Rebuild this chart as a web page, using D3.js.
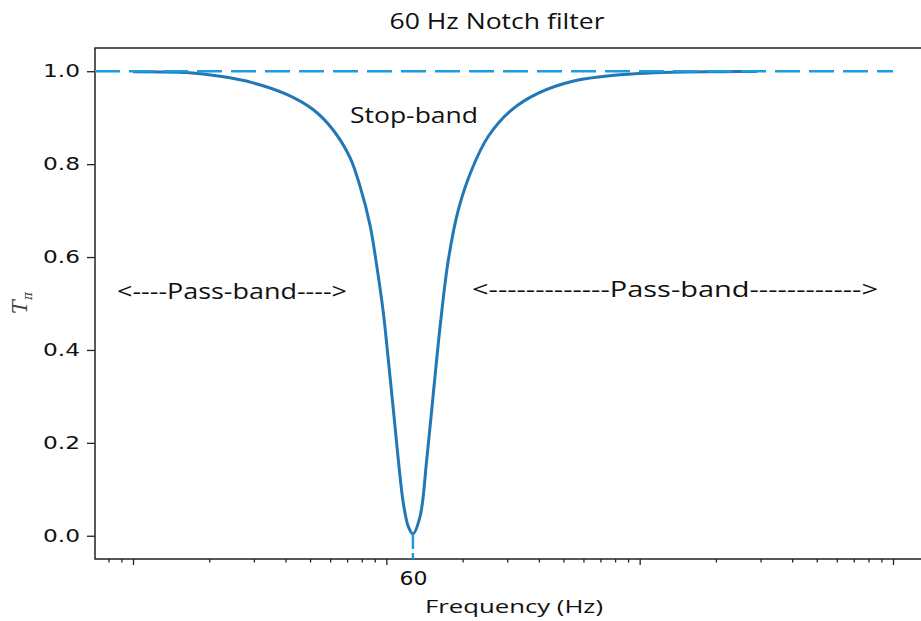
<!DOCTYPE html>
<html>
<head>
<meta charset="utf-8">
<title>60 Hz Notch filter</title>
<script src="https://d3js.org/d3.v7.min.js"></script>
<style>
  body { margin: 0; background: #fff; }
  .lbl { font-family: "Open Sans", sans-serif; fill: #111; }
  .tick text { font-family: "DejaVu Sans", sans-serif; fill: #111; }
  .tick line { stroke: #222; stroke-width: 1.3; }
</style>
</head>
<body>
<div id="chart"></div>
<script>
// data
var freqHz = [4.712, 7.68, 10.40, 14.03, 19.06, 24.27, 29.11, 33.87, 37.11, 40.65, 43.19, 45.86, 47.97, 50.23, 52.55, 55.0, 57.6, 60,
              64.0, 68.0, 72.25, 76.8, 82.8, 90.7, 102.4, 119.1, 147.3, 187.6, 254.2, 344.1, 465.7, 630.8, 1000, 1370];
var gain   = [0.999, 0.997, 0.989, 0.975, 0.950, 0.917, 0.873, 0.814, 0.752, 0.668, 0.581, 0.480, 0.379, 0.271, 0.163, 0.070, 0.019, 0.004,
              0.041, 0.163, 0.307, 0.450, 0.594, 0.702, 0.788, 0.860, 0.917, 0.953, 0.978, 0.989, 0.995, 0.998, 0.999, 0.9995];
var decadeTicks = [4.712, 47.12, 471.2, 4712];   // unlabelled major ticks
var notchFreq = [60];
var yTicks = [0, 0.2, 0.4, 0.6, 0.8, 1.0];
var refLevel = 1.0;

var W = 921, H = 621;
var plot = {left: 95, right: 931, top: 48, bottom: 559};

var svg = d3.select("#chart").append("svg")
  .attr("width", W).attr("height", H);

// log x with 5% margins, like matplotlib
var pad = Math.pow(10, 0.15);
var x = d3.scaleLog()
  .domain([decadeTicks[0] / pad, decadeTicks[decadeTicks.length - 1] * pad])
  .range([plot.left, plot.right]);
var y = d3.scaleLinear().domain([-0.05, 1.05]).range([plot.bottom, plot.top]);

// minor ticks 2..9 per decade
var minorTicks = [];
[decadeTicks[0] / 10].concat(decadeTicks).forEach(function(d) {
  for (var k = 2; k <= 9; k++) {
    var v = d * k;
    if (v > x.domain()[0] && v < x.domain()[1]) minorTicks.push(v);
  }
});

var gx = svg.append("g").attr("transform", "translate(0," + plot.bottom + ")");
gx.append("g").call(d3.axisBottom(x).tickValues(decadeTicks).tickSize(6).tickFormat(""))
  .select(".domain").remove();
gx.append("g").call(d3.axisBottom(x).tickValues(minorTicks).tickSize(3.5).tickFormat(""))
  .select(".domain").remove();
var g60 = gx.append("g").call(d3.axisBottom(x).tickValues(notchFreq).tickSize(0).tickPadding(13).tickFormat(d3.format("d")));
g60.select(".domain").remove();
g60.selectAll("text").attr("class", "lbl").style("font-size", "19px")
  .attr("textLength", 28).attr("lengthAdjust", "spacingAndGlyphs");

var gy = svg.append("g").attr("transform", "translate(" + plot.left + ",0)")
  .call(d3.axisLeft(y).tickValues(yTicks).tickSize(8).tickPadding(7).tickFormat(d3.format(".1f")));
gy.select(".domain").remove();
gy.selectAll("text").style("font-size", "17px")
  .attr("textLength", 37).attr("lengthAdjust", "spacingAndGlyphs");

// frame
svg.append("path")
  .attr("d", "M" + plot.right + "," + plot.top + "H" + plot.left + "V" + plot.bottom + "H" + plot.right)
  .attr("fill", "none").attr("stroke", "#222").attr("stroke-width", 1.5);

var pts = freqHz.map(function(f, i) { return [f, gain[i]]; });
var line = d3.line()
  .x(function(d) { return x(d[0]); })
  .y(function(d) { return y(d[1]); })
  .curve(d3.curveCatmullRom.alpha(0.5));

svg.append("path").datum(pts)
  .attr("d", line)
  .attr("fill", "none").attr("stroke", "#2277b6").attr("stroke-width", 3);

// reference line at 1.0
svg.append("line")
  .attr("x1", x(x.domain()[0])).attr("x2", x(decadeTicks[decadeTicks.length - 1]))
  .attr("y1", y(refLevel)).attr("y2", y(refLevel))
  .attr("stroke", "#1b9de2").attr("stroke-width", 2.5).attr("stroke-dasharray", "25,9");

// notch marker
svg.append("line")
  .attr("x1", x(notchFreq[0])).attr("x2", x(notchFreq[0]))
  .attr("y1", y(d3.min(gain))).attr("y2", y(-0.05))
  .attr("stroke", "#1b9de2").attr("stroke-width", 2.5).attr("stroke-dasharray", "15,4");

// texts
function label(txt, cx, by, size, len) {
  svg.append("text").attr("class", "lbl")
    .attr("x", cx).attr("y", by).attr("text-anchor", "middle")
    .style("font-size", size + "px")
    .attr("textLength", len).attr("lengthAdjust", "spacingAndGlyphs")
    .text(txt);
}
label("60 Hz Notch filter", 497, 29, 21, 215);
label("Frequency (Hz)", 514, 613, 18, 178);
label("Stop-band", 414, 123, 21, 128);
label("<----Pass-band---->", 232, 299, 21, 230);
label("<-------------Pass-band------------>", 675, 297, 21, 406);

var yl = svg.append("text")
  .attr("transform", "translate(27,314) rotate(-90)")
  .style("font-family", "'DejaVu Serif', serif").style("font-style", "italic")
  .style("font-size", "21px").attr("fill", "#444");
yl.append("tspan").text("T");
yl.append("tspan").attr("dy", 5).style("font-size", "12px").text("\u03c0");
</script>
</body>
</html>
